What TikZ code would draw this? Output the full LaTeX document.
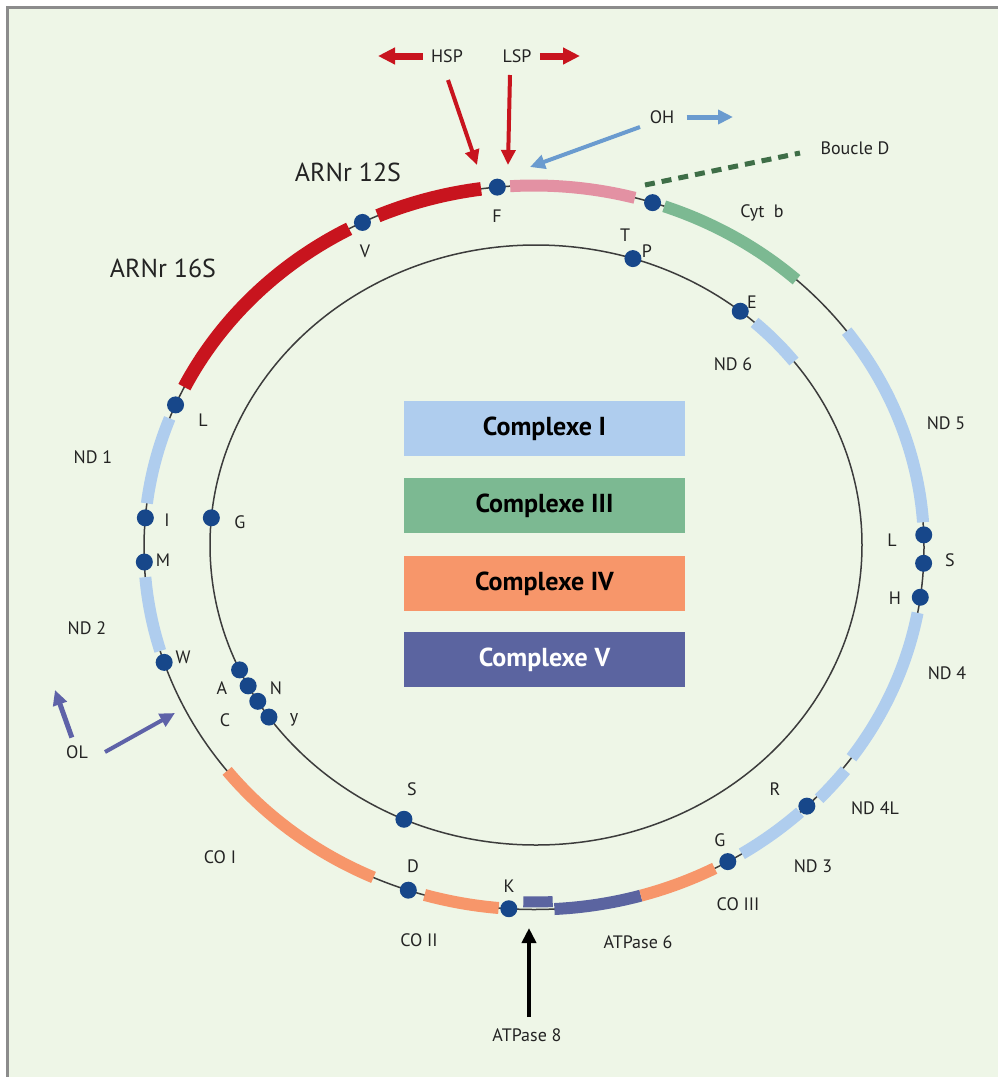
\documentclass[tikz,border=0pt]{standalone}
\usepackage{fontspec}
\setmainfont{PT Sans}
\usetikzlibrary{arrows.meta}

\definecolor{fond}{RGB}{238,246,231}
\definecolor{cadre}{RGB}{140,140,140}
\definecolor{trait}{RGB}{60,60,60}
\definecolor{texte}{RGB}{35,35,35}
\definecolor{bleuclair}{RGB}{175,205,238}
\definecolor{vert}{RGB}{124,185,146}
\definecolor{orange}{RGB}{247,150,106}
\definecolor{violet}{RGB}{91,100,160}
\definecolor{rouge}{RGB}{200,20,30}
\definecolor{rose}{RGB}{227,145,163}
\definecolor{bleunuit}{RGB}{23,71,138}
\definecolor{bleuoh}{RGB}{106,155,207}
\definecolor{violol}{RGB}{94,98,168}
\definecolor{vertd}{RGB}{62,110,71}

\tikzset{
  brin/.style={line width=0.75pt, draw=trait},
  gene/.style={line width=6pt},
  trna/.style={circle, fill=bleunuit, inner sep=0pt, minimum size=8.5pt},
  lbl/.style={font=\fontsize{9}{10}\selectfont, text=texte, inner sep=0pt},
  grand/.style={font=\fontsize{13}{15}\selectfont, text=texte, inner sep=0pt},
  boite/.style={minimum width=140.5pt, minimum height=27.5pt, inner sep=0pt, font=\fontsize{13}{15}\selectfont\bfseries},
  fleche/.style={line width=2pt, -{Triangle[length=7.5pt, width=7pt]}},
  grosse/.style={line width=3.5pt, -{Triangle[length=8.5pt, width=8pt]}}
}

\begin{document}
\begin{tikzpicture}[x=0.5pt, y=-0.5pt]
\useasboundingbox (0,0) rectangle (998,1077);
\fill[fond] (7,7) rectangle (998,1077);
\draw[cadre, line width=1.5pt] (7,1077) -- (7,7) -- (998,7);

\coordinate (O) at (534,547.5);
\coordinate (Oi) at (536,545);

\draw[brin] (O) ellipse [x radius=390, y radius=362];
\draw[brin] (Oi) ellipse [x radius=326, y radius=300];

\foreach \a/\b/\c in {159.1/173/bleuclair, 184.7/196.6/bleuclair, 218.1/245.7/orange, 253.7/264.8/orange, 273/285.9/violet, 285.9/297.6/orange, 302.2/313/bleuclair, 324.5/349.6/bleuclair, 4/36.7/bleuclair, 47.7/70.5/vert, 75/93.5/rose}
  \draw[gene, draw=\c] (O) ++(-\a:390 and 362) arc [start angle=-\a, end angle=-\b, x radius=390, y radius=362];
\foreach \a/\b in {97.8/113.6, 118.3/153.7}
  \draw[gene, line width=6.8pt, draw=rouge] (O) ++(-\a:390 and 362) arc [start angle=-\a, end angle=-\b, x radius=390, y radius=362];
\draw[gene, line width=5.5pt, draw=violet] (O) ++(-268.4:382.5 and 354.5) arc [start angle=-268.4, end angle=-272.8, x radius=382.5, y radius=354.5];
\draw[gene, draw=bleuclair] (O) ++(-316.5:393 and 365) arc [start angle=-316.5, end angle=-322.4, x radius=393, y radius=365];
\draw[gene, draw=bleuclair] (Oi) ++(-37.7:326 and 300) arc [start angle=-37.7, end angle=-47.9, x radius=326, y radius=300];

\foreach \a/\n in {95.4/F, 116.1/V, 156.8/L, 175.3/I, 182.3/M, 198.5/W, 251.2/D, 266.3/K, 299.8/G, 314.4/R, 352.1/H, 357.5/S, 2/Lb, 72.3/T}
  \path (O) ++(-\a:390 and 362) node[trna] (e\n) {};
\foreach \a/\n in {72.7/P, 51.2/E, 174.8/G, 204.6/A, 208/N, 211.4/C, 215/Y, 246.1/S}
  \path (Oi) ++(-\a:326 and 300) node[trna] (i\n) {};

\node[boite, fill=bleuclair] (cI) at (544.5,428.5) {Complexe I};
\node[boite, fill=vert] (cIII) at (544.5,505.5) {Complexe III};
\node[boite, fill=orange] (cIV) at (544.5,583.5) {Complexe IV};
\node[boite, fill=violet, text=white] (cV) at (544.5,659.5) {Complexe V};

\node[lbl] (hsp) at (447,56) {HSP};
\node[lbl] (lsp) at (517,56) {LSP};
\node[lbl] (oh) at (662,117) {OH};
\node[lbl] (boucle) at (855,148) {Boucle D};
\node[grand] (arn12) at (348,172) {ARNr 12S};
\node[grand] (arn16) at (163,268) {ARNr 16S};
\node[lbl] (lF) at (497,216) {F};
\node[lbl] (lV) at (365,251) {V};
\node[lbl] (lT) at (625,235) {T};
\node[lbl] (lP) at (647,251) {P};
\node[lbl] (lE) at (752,302) {E};
\node[lbl] (nd6) at (733,364) {ND 6};
\node[lbl] (cytb) at (762,213) {Cyt~~b};
\node[lbl] (nd5) at (946,423) {ND 5};
\node[lbl] (lLb) at (892,540) {L};
\node[lbl] (lSb) at (950,560) {S};
\node[lbl] (lH) at (895,598) {H};
\node[lbl] (nd4) at (947,673) {ND 4};
\node[lbl] (nd4l) at (875,808) {ND 4L};
\node[lbl] (lR) at (775,789) {R};
\node[lbl] (nd3) at (813,866) {ND 3};
\node[lbl] (lGb) at (720,840) {G};
\node[lbl] (co3) at (738,904) {CO III};
\node[lbl] (atp6) at (638,942) {ATPase 6};
\node[lbl] (lK) at (509,886) {K};
\node[lbl] (lD) at (413,866) {D};
\node[lbl] (co2) at (419,940) {CO II};
\node[lbl] (co1) at (220,857) {CO I};
\node[lbl] (lS) at (412,789) {S};
\node[lbl] (atp8) at (527,1035) {ATPase 8};
\node[lbl] (ol) at (77,752) {OL};
\node[lbl] (nd1) at (93,457) {ND 1};
\node[lbl] (nd2) at (87,628) {ND 2};
\node[lbl] (lL) at (203,420) {L};
\node[lbl] (lI) at (167,520) {I};
\node[lbl] (lM) at (163,560) {M};
\node[lbl] (lW) at (183,657) {W};
\node[lbl] (lG) at (240,522) {G};
\node[lbl] (lA) at (222,688) {A};
\node[lbl] (lN) at (276,688) {N};
\node[lbl] (lC) at (225,720) {C};
\node[lbl] (lY) at (294,720) {y};

\coordinate (hspG) at (378,56);
\coordinate (lspD) at (580,56);
\coordinate (hspA) at (448,80);
\coordinate (hspB) at (477,165);
\coordinate (lspA) at (510,75);
\coordinate (lspB) at (508,165);
\coordinate (ohA) at (640,127);
\coordinate (ohB) at (530,167);
\coordinate (ohD) at (733,117);
\coordinate (boucleA) at (645,185);
\coordinate (boucleB) at (800,153);
\coordinate (olH) at (55,690);
\coordinate (olA) at (105,752);
\coordinate (olB) at (175,713);
\coordinate (atpA) at (529,1017);
\coordinate (atpB) at (529,928);

\draw[grosse, rouge, shorten <=4pt] (hsp) -- (hspG);
\draw[grosse, rouge, shorten <=4pt] (lsp) -- (lspD);
\draw[fleche, rouge] (hspA) -- (hspB);
\draw[fleche, rouge] (lspA) -- (lspB);
\draw[fleche, bleuoh] (ohA) -- (ohB);
\draw[fleche, bleuoh, line width=2.5pt, shorten <=6pt] (oh) -- (ohD);
\draw[vertd, line width=2.5pt, dash pattern=on 5pt off 3.5pt] (boucleA) -- (boucleB);
\draw[fleche, violol, line width=2.5pt, shorten <=4pt] (ol) -- (olH);
\draw[fleche, violol] (olA) -- (olB);
\draw[fleche, black] (atpA) -- (atpB);
\end{tikzpicture}
\end{document}
